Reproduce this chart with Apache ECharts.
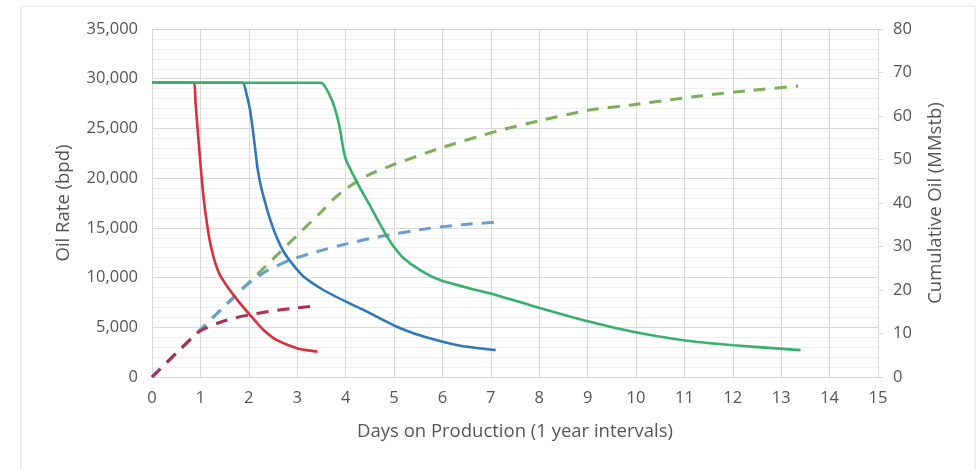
<!DOCTYPE html>
<html>
<head>
<meta charset="utf-8">
<title>Oil rate and cumulative oil</title>
<script src="https://cdn.jsdelivr.net/npm/echarts@6/dist/echarts.min.js"></script>
<style>
  html, body { margin: 0; padding: 0; background: #ffffff; }
  #chart { width: 979px; height: 470px; }
</style>
</head>
<body>
<div id="chart"></div>
<script>
// Oil rate (bpd) per case, as [years on production, rate]
const rateRed = [[0,29600],[0.85,29600],[0.9,27500],[0.95,24500],[1.0,21500],[1.05,18800],[1.11,16300],[1.19,13800],[1.28,11900],[1.4,10300],[1.6,8800],[1.82,7400],[2.06,6050],[2.30,4750],[2.58,3700],[2.99,2900],[3.42,2550]];
const rateBlue = [[0,29600],[1.87,29600],[1.95,28500],[2.02,27000],[2.08,25000],[2.13,23000],[2.18,21000],[2.25,19200],[2.34,17500],[2.45,15700],[2.58,14000],[2.72,12600],[2.88,11500],[3.13,10100],[3.54,8750],[4.02,7550],[4.37,6750],[4.71,5900],[5.06,5050],[5.4,4400],[5.74,3900],[6.09,3450],[6.43,3100],[7.1,2700]];
const rateGreen = [[0,29600],[3.5,29600],[3.6,29000],[3.72,27800],[3.82,26300],[3.9,24500],[3.96,22700],[4.02,21700],[4.16,20300],[4.3,19000],[4.44,17800],[4.64,16000],[4.8,14600],[4.95,13400],[5.19,12000],[5.54,10750],[5.95,9750],[6.57,8900],[7.1,8250],[7.9,7100],[9.05,5550],[9.94,4550],[10.98,3700],[12.01,3200],[13.4,2700]];

// Cumulative oil (MMstb) per case, as [years on production, cumulative]
const cumRed = [[0,0],[0.85,9.3],[1.0,10.6],[1.34,12.3],[1.68,13.5],[2.02,14.3],[2.5,15.2],[3.0,15.9],[3.45,16.4]];
const cumBlue = [[0,0],[1.87,20.3],[2.1,22.4],[2.37,24.4],[2.85,26.9],[3.4,28.8],[4.02,30.6],[4.71,32.3],[5.74,34.2],[6.4,35.0],[7.1,35.6]];
const cumGreen = [[0,0],[3.5,38.0],[3.75,40.9],[4.02,43.4],[4.5,46.6],[4.99,48.8],[5.95,52.6],[7.12,56.5],[8.08,59.1],[9.0,61.3],[9.94,62.6],[11.32,64.6],[12.3,65.8],[13.35,66.9]];

// Axis ranges and titles
const xRange = [0, 15, 1];
const rateRange = [0, 35000, 5000];
const cumRange = [0, 80, 10];
const xTitle = 'Days on Production (1 year intervals)';
const rateTitle = 'Oil Rate (bpd)';
const cumTitle = 'Cumulative Oil (MMstb)';

const FONT = '"Open Sans", "Liberation Sans", sans-serif';
const TEXT = '#555555';
const GRID = '#d9d9d9';
const MINOR = '#efefef';
const TICK_SIZE = 16.5;
const TITLE_SIZE = 18.5;

const chart = echarts.init(document.getElementById('chart'), null, { renderer: 'canvas' });

function solid(data, color) {
  return {
    type: 'line', data: data, yAxisIndex: 0, smooth: 0.2,
    showSymbol: false, symbol: 'none',
    lineStyle: { color: color, width: 2.6 }, z: 3, animation: false
  };
}
function dashed(data, color, z) {
  return {
    type: 'line', data: data, yAxisIndex: 1, smooth: 0.2,
    showSymbol: false, symbol: 'none',
    lineStyle: { color: color, width: 3, type: [12, 9] }, z: z, animation: false
  };
}

chart.setOption({
  animation: false,
  backgroundColor: '#ffffff',
  textStyle: { fontFamily: FONT },
  graphic: [{
    type: 'rect', silent: true, z: -10,
    shape: { x: 21, y: 6, width: 954, height: 480 },
    style: { fill: 'none', stroke: '#e0e0e0', lineWidth: 1 }
  }],
  grid: { left: 152, right: 101, top: 29, bottom: 93, containLabel: false },
  xAxis: {
    type: 'value', min: xRange[0], max: xRange[1], interval: xRange[2],
    name: xTitle, nameLocation: 'middle', nameGap: 45,
    nameTextStyle: { color: TEXT, fontSize: TITLE_SIZE, fontFamily: FONT },
    axisLine: { show: true, lineStyle: { color: GRID, width: 1 } },
    axisTick: { show: false },
    axisLabel: { color: TEXT, fontSize: TICK_SIZE, fontFamily: FONT, margin: 13 },
    splitLine: { show: true, lineStyle: { color: GRID, width: 1 } }
  },
  yAxis: [{
    type: 'value', min: rateRange[0], max: rateRange[1], interval: rateRange[2],
    name: rateTitle, nameLocation: 'middle', nameGap: 79,
    nameTextStyle: { color: TEXT, fontSize: TITLE_SIZE, fontFamily: FONT },
    axisLine: { show: false },
    axisTick: { show: false },
    axisLabel: {
      color: TEXT, fontSize: TICK_SIZE, fontFamily: FONT, margin: 14,
      formatter: v => v.toLocaleString('en-US')
    },
    splitLine: { show: true, lineStyle: { color: GRID, width: 1 } },
    minorTick: { show: false, splitNumber: 5 },
    minorSplitLine: { show: true, lineStyle: { color: MINOR, width: 1 } }
  }, {
    type: 'value', min: cumRange[0], max: cumRange[1], interval: cumRange[2],
    position: 'right',
    name: cumTitle, nameLocation: 'middle', nameGap: 48,
    nameTextStyle: { color: TEXT, fontSize: TITLE_SIZE, fontFamily: FONT },
    axisLine: { show: false },
    axisTick: { show: true, length: 5, lineStyle: { color: GRID } },
    axisLabel: { color: TEXT, fontSize: TICK_SIZE, fontFamily: FONT, margin: 15 },
    splitLine: { show: false }
  }],
  series: [
    dashed(cumGreen, '#7fad5c', 1),
    dashed(cumBlue, '#6a9ecf', 2),
    dashed(cumRed, '#ad2f4f', 2.5),
    solid(rateRed, '#d7303c'),
    solid(rateBlue, '#2f78b7'),
    solid(rateGreen, '#36b06a')
  ]
});
</script>
</body>
</html>
